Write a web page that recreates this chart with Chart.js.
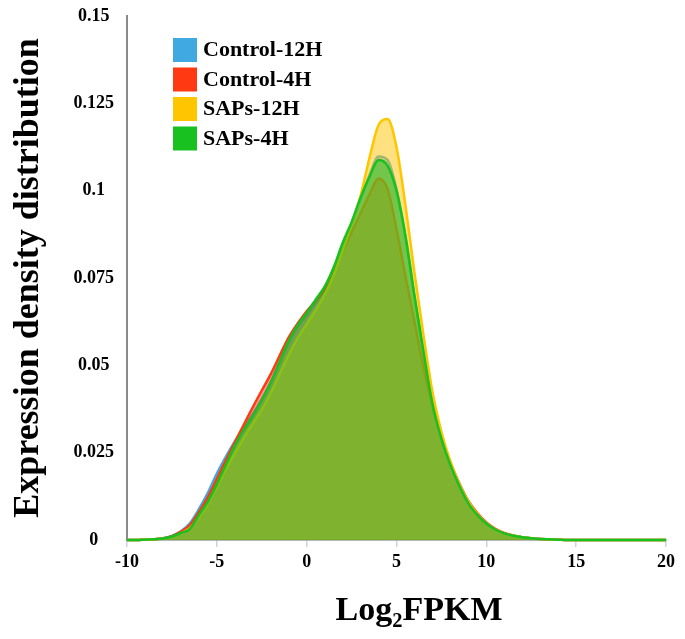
<!DOCTYPE html>
<html><head><meta charset="utf-8">
<script src="https://cdn.jsdelivr.net/npm/chart.js@4.4.1/dist/chart.umd.min.js"></script>
<style>html,body{margin:0;padding:0;background:#fff;} canvas{display:block;}</style>
</head><body>
<canvas id="c" width="685" height="639"></canvas>
<script>
// ---- data ----
const seriesNames = ['Control-12H', 'Control-4H', 'SAPs-12H', 'SAPs-4H'];
const xValues = [-10,-9.5,-9,-8.5,-8,-7.5,-7,-6.5,-6,-5.5,-5,-4.5,-4,-3.5,-3,-2.5,-2,-1.5,-1,-0.5,0,0.5,1,1.5,2,2.5,3,3.5,4,4.5,5,5.5,6,6.5,7,7.5,8,8.5,9,9.5,10,10.5,11,11.5,12,12.5,13,13.5,14,14.5,15,15.5,16,16.5,17,17.5,18,18.5,19,19.5,20];
const control12H = [0,0,0.0001,0.0002,0.0005,0.0012,0.0025,0.0048,0.0088,0.0135,0.019,0.0238,0.0282,0.0322,0.036,0.0403,0.0452,0.051,0.0565,0.061,0.0645,0.068,0.0718,0.0772,0.0842,0.0905,0.0975,0.1045,0.1098,0.1088,0.1005,0.0865,0.0695,0.0535,0.039,0.029,0.0215,0.0155,0.0106,0.0072,0.0047,0.003,0.0019,0.0012,0.0008,0.0005,0.0003,0.0002,0.0001,0,0,0,0,0,0,0,0,0,0,0,0];
const control4H = [0,0,0.0001,0.0002,0.0005,0.0011,0.0024,0.0043,0.008,0.0123,0.0175,0.0228,0.028,0.033,0.038,0.0428,0.0475,0.0528,0.058,0.062,0.0655,0.0685,0.0718,0.0765,0.0825,0.088,0.0935,0.099,0.1035,0.1005,0.089,0.0755,0.0625,0.0495,0.0385,0.0295,0.0222,0.0162,0.0112,0.0077,0.005,0.0032,0.002,0.0013,0.0008,0.0005,0.0003,0.0002,0.0001,0,0,0,0,0,0,0,0,0,0,0,0];
const saps12H = [0,0,0.0001,0.0002,0.0004,0.0009,0.0019,0.0034,0.0066,0.0103,0.0152,0.0202,0.0248,0.0292,0.0333,0.0373,0.042,0.0475,0.053,0.0578,0.0618,0.0658,0.0702,0.0758,0.0828,0.0903,0.0985,0.1095,0.1188,0.1205,0.1125,0.0958,0.0765,0.0588,0.0425,0.031,0.0225,0.016,0.011,0.0074,0.0048,0.003,0.0019,0.0012,0.0008,0.0005,0.0003,0.0002,0.0001,0,0,0,0,0,0,0,0,0,0,0,0];
const saps4H = [0,0,0.0001,0.0002,0.0004,0.001,0.002,0.0032,0.0072,0.011,0.016,0.0215,0.027,0.0315,0.0355,0.04,0.045,0.051,0.057,0.0615,0.065,0.0688,0.0725,0.078,0.085,0.091,0.098,0.104,0.1088,0.1072,0.1,0.087,0.07,0.054,0.039,0.029,0.0215,0.0155,0.0105,0.0072,0.0047,0.003,0.0019,0.0012,0.0008,0.0005,0.0003,0.0002,0.0001,0,0,0,0,0,0,0,0,0,0,0,0];
const xTickLabels = ['-10', '-5', '0', '5', '10', '15', '20'];
const yTickLabels = ['0', '0.025', '0.05', '0.075', '0.1', '0.125', '0.15'];
const xAxisTitle = 'Log₂FPKM';
const yAxisTitle = 'Expression density distribution';

// ---- styles ----
const lineColors = ['#41a9e1', '#ff3a12', '#ffc600', '#18c020'];
const fillColors = ['rgba(65,169,225,0.5)', 'rgba(255,58,18,0.5)', 'rgba(255,198,0,0.5)', 'rgba(24,192,32,0.5)'];
const drawOrder = [4, 3, 2, 1];
const serif = '"Liberation Serif", "Times New Roman", serif';

const seriesValues = [control12H, control4H, saps12H, saps4H];
const datasets = seriesNames.map((name, i) => ({
  label: name,
  data: xValues.map((x, j) => ({x: x, y: seriesValues[i][j]})),
  borderColor: lineColors[i],
  backgroundColor: fillColors[i],
  fill: 'origin',
  borderWidth: 2.5,
  pointRadius: 0,
  tension: 0.4,
  cubicInterpolationMode: 'monotone',
  order: drawOrder[i],
  clip: 4
}));

const annotatePlugin = {
  id: 'insideLegendAndTitle',
  afterDraw(chart) {
    const ctx = chart.ctx;
    ctx.save();
    ctx.font = 'bold 22px ' + serif;
    ctx.textBaseline = 'middle';
    ctx.textAlign = 'left';
    chart.data.datasets.forEach((ds, i) => {
      const top = 38 + i * 29.5;
      ctx.fillStyle = lineColors[i];
      ctx.fillRect(173, top, 24, 24);
      ctx.fillStyle = '#000';
      ctx.fillText(ds.label, 203, top + 12.5);
    });
    // x axis title
    ctx.font = 'bold 34px ' + serif;
    ctx.textAlign = 'center';
    ctx.textBaseline = 'alphabetic';
    ctx.fillText(xAxisTitle, 419, 620);
    ctx.restore();
  }
};

new Chart(document.getElementById('c'), {
  type: 'line',
  data: { datasets: datasets },
  options: {
    responsive: false,
    animation: false,
    devicePixelRatio: 1,
    layout: { padding: { top: 16, right: 19, left: 0, bottom: 0 } },
    plugins: { legend: { display: false }, tooltip: { enabled: false } },
    scales: {
      x: {
        type: 'linear',
        min: -10, max: 20,
        afterFit: s => { s.height = 99; },
        afterBuildTicks: s => { s.ticks = xTickLabels.map(t => ({value: Number(t)})); },
        ticks: {
          callback: (v, i) => xTickLabels[i],
          font: { family: serif, size: 18, weight: 'bold' },
          color: '#000',
          padding: 5,
          maxRotation: 0
        },
        grid: { drawOnChartArea: false, drawTicks: true, tickLength: 7, color: '#c9d5e4', lineWidth: 1.5 },
        border: { display: true, color: '#6e6e6e', width: 1.5 },
        title: { display: false }
      },
      y: {
        type: 'linear',
        min: 0, max: 0.15,
        afterFit: s => { s.width = 127; },
        afterBuildTicks: s => { s.ticks = yTickLabels.map(t => ({value: Number(t)})); },
        ticks: {
          callback: (v, i) => yTickLabels[i],
          font: { family: serif, size: 18, weight: 'bold' },
          color: '#000',
          padding: 5,
          crossAlign: 'center'
        },
        grid: { display: false },
        border: { display: true, color: '#8a8a8a', width: 2 },
        title: {
          display: true,
          text: yAxisTitle,
          font: { family: serif, size: 36, weight: 'bold' },
          color: '#000',
          padding: { top: 7, bottom: 0 }
        }
      }
    }
  },
  plugins: [annotatePlugin]
});
</script>
</body></html>
